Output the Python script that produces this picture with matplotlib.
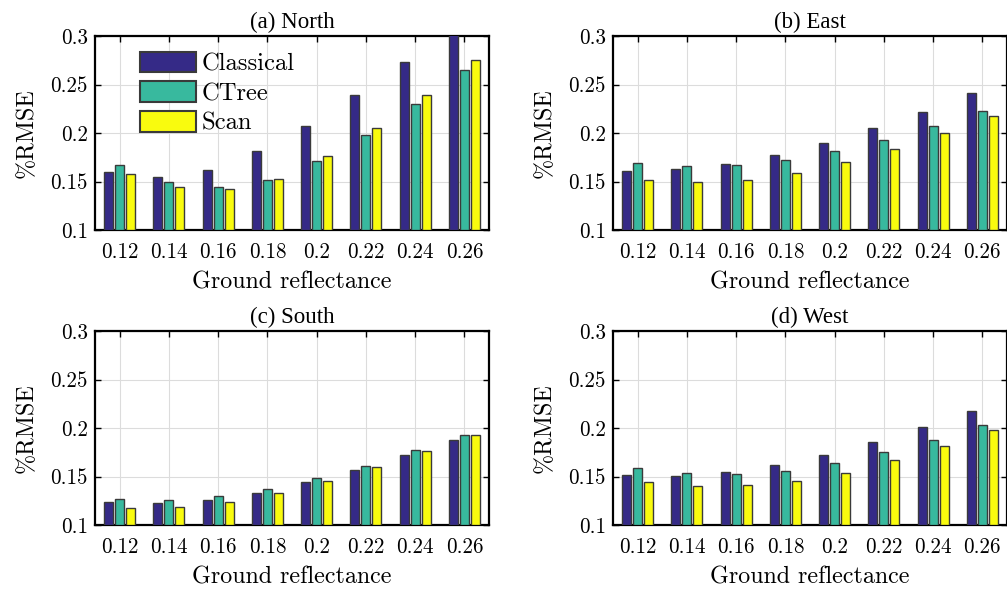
import numpy as np
import matplotlib
matplotlib.use("Agg")
import matplotlib.pyplot as plt

plt.rcParams['font.family'] = ['cmr10', 'DejaVu Serif']
plt.rcParams['mathtext.fontset'] = 'cm'
plt.rcParams['axes.formatter.use_mathtext'] = True

# Ground reflectance categories
reflectance = ['0.12', '0.14', '0.16', '0.18', '0.2', '0.22', '0.24', '0.26']
methods = ['Classical', 'CTree', 'Scan']

# %RMSE values
north_classical = [0.160, 0.155, 0.162, 0.181, 0.207, 0.239, 0.273, 0.310]
north_ctree = [0.167, 0.150, 0.144, 0.152, 0.171, 0.198, 0.230, 0.265]
north_scan = [0.158, 0.144, 0.142, 0.153, 0.176, 0.205, 0.239, 0.275]

east_classical = [0.161, 0.163, 0.168, 0.177, 0.190, 0.205, 0.222, 0.241]
east_ctree = [0.169, 0.166, 0.167, 0.172, 0.181, 0.193, 0.207, 0.223]
east_scan = [0.152, 0.150, 0.152, 0.159, 0.170, 0.184, 0.200, 0.218]

south_classical = [0.124, 0.123, 0.126, 0.133, 0.144, 0.157, 0.172, 0.188]
south_ctree = [0.127, 0.126, 0.130, 0.137, 0.148, 0.161, 0.177, 0.193]
south_scan = [0.118, 0.119, 0.124, 0.133, 0.145, 0.160, 0.176, 0.193]

west_classical = [0.152, 0.151, 0.155, 0.162, 0.172, 0.186, 0.201, 0.218]
west_ctree = [0.159, 0.154, 0.153, 0.156, 0.164, 0.175, 0.188, 0.203]
west_scan = [0.144, 0.140, 0.141, 0.145, 0.154, 0.167, 0.181, 0.198]

titles = ['(a) North', '(b) East', '(c) South', '(d) West']
panels = [
    [north_classical, north_ctree, north_scan],
    [east_classical, east_ctree, east_scan],
    [south_classical, south_ctree, south_scan],
    [west_classical, west_ctree, west_scan],
]
colors = ['#352a87', '#38b99e', '#f9fb0e']

W, H = 1007, 589
fig = plt.figure(figsize=(W / 100, H / 100), dpi=100)

# axes boxes in pixels: left, top
boxes = [(95, 36), (613, 36), (95, 331), (613, 331)]
aw, ah = 394, 194

x = np.arange(len(reflectance))
pitch = 0.222
bw = 0.185
tick_fs = 15.2
label_fs = 17.3

for k, (title, series) in enumerate(zip(titles, panels)):
    l, t = boxes[k]
    ax = fig.add_axes([l / W, 1 - (t + ah) / H, aw / W, ah / H])
    for j, vals in enumerate(series):
        v = np.array(vals)
        ax.bar(x + (j - 1) * pitch, v - 0.1, bottom=0.1, width=bw,
               color=colors[j], edgecolor='#3a3a3a', linewidth=1.0,
               label=methods[j], zorder=3)
    ax.set_xlim(-0.5, 7.5)
    ax.set_ylim(0.1, 0.3)
    ax.set_yticks([0.1, 0.15, 0.2, 0.25, 0.3])
    ax.set_yticklabels(['0.1', '0.15', '0.2', '0.25', '0.3'])
    ax.set_xticks(x)
    ax.set_xticklabels(reflectance)
    ax.grid(True, color='#dcdcdc', linewidth=0.8, zorder=0)
    ax.set_axisbelow(True)
    ax.tick_params(direction='in', top=True, right=True, length=4,
                   width=1.0, labelsize=tick_fs)
    ax.tick_params(axis='x', pad=9)
    ax.tick_params(axis='y', pad=5)
    for s in ax.spines.values():
        s.set_linewidth(1.6)
    ax.set_title(title, fontsize=16.5, pad=6, family='Liberation Serif')
    ax.set_xlabel('Ground reflectance', fontsize=label_fs, labelpad=6.5)
    ax.set_ylabel(r'%RMSE', fontsize=label_fs, labelpad=9)
    if k == 0:
        leg = ax.legend(loc='upper left', bbox_to_anchor=(0.09, 0.97),
                        frameon=False, fontsize=17.7, handlelength=2.26,
                        handleheight=0.9, labelspacing=0.25,
                        handletextpad=0.25, borderaxespad=0)
        for h in leg.legend_handles:
            h.set_linewidth(1.5)

fig.savefig('out.png', dpi=100)
